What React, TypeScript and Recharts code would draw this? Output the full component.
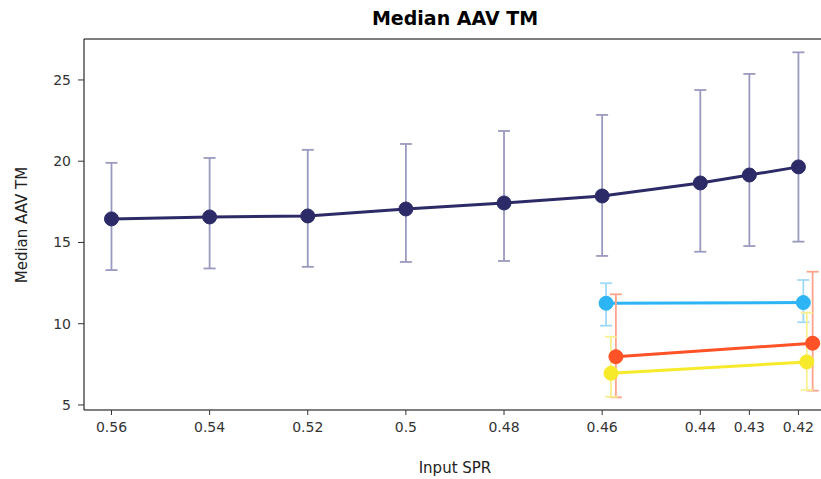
import { LineChart, Line, XAxis, YAxis, ErrorBar, ReferenceLine } from 'recharts';

// Input SPR ticks on the reversed x axis
const X_TICKS = [0.56, 0.54, 0.52, 0.5, 0.48, 0.46, 0.44, 0.43, 0.42];
const Y_TICKS = [5, 10, 15, 20, 25];

// main series (navy)
const MAIN_SPR = [0.56, 0.54, 0.52, 0.5, 0.48, 0.46, 0.44, 0.43, 0.42];
const MAIN_MEDIAN = [16.45, 16.57, 16.63, 17.06, 17.43, 17.86, 18.66, 19.15, 19.65];
const MAIN_LOW = [13.3, 13.4, 13.5, 13.8, 13.86, 14.17, 14.43, 14.78, 15.05];
const MAIN_HIGH = [19.9, 20.2, 20.7, 21.06, 21.86, 22.85, 24.38, 25.37, 26.7];

// light blue series
const BLUE_SPR = [0.4592, 0.419];
const BLUE_MEDIAN = [11.26, 11.3];
const BLUE_LOW = [9.88, 10.09];
const BLUE_HIGH = [12.49, 12.69];

// orange-red series
const RED_SPR = [0.4572, 0.4171];
const RED_MEDIAN = [7.97, 8.8];
const RED_LOW = [5.47, 5.88];
const RED_HIGH = [11.81, 13.2];

// yellow series
const YELLOW_SPR = [0.4582, 0.4183];
const YELLOW_MEDIAN = [6.95, 7.65];
const YELLOW_LOW = [5.51, 5.92];
const YELLOW_HIGH = [9.2, 10.68];

const X_DOMAIN = [0.4154, 0.5656];
const Y_DOMAIN = [4.69, 27.52];

const FONT = "'DejaVu Sans', sans-serif";
const TICK = { fontSize: 14, fill: '#333', fontFamily: FONT };

function toRows(spr: number[], med: number[], low: number[], high: number[]) {
  return spr.map((x, i) => ({
    x,
    y: med[i],
    err: [med[i] - low[i], high[i] - med[i]],
  }));
}

const SERIES = [
  { key: 'main', rows: toRows(MAIN_SPR, MAIN_MEDIAN, MAIN_LOW, MAIN_HIGH), color: '#2c2b68', err: '#9a99c0' },
  { key: 'blue', rows: toRows(BLUE_SPR, BLUE_MEDIAN, BLUE_LOW, BLUE_HIGH), color: '#2db4f5', err: '#9fd9f8' },
  { key: 'red', rows: toRows(RED_SPR, RED_MEDIAN, RED_LOW, RED_HIGH), color: '#ff5226', err: '#ffa48c' },
  { key: 'yellow', rows: toRows(YELLOW_SPR, YELLOW_MEDIAN, YELLOW_LOW, YELLOW_HIGH), color: '#f7ea2a', err: '#f9f08f' },
];

export default function App() {
  return (
    <div style={{ position: 'absolute', left: 0, top: 0, width: 821, height: 479, background: '#fff', fontFamily: FONT }}>
      <div
        style={{
          position: 'absolute', left: 255, width: 400, top: 7, textAlign: 'center',
          fontSize: 19, fontWeight: 700, color: '#000',
        }}
      >
        Median AAV TM
      </div>
      <div
        style={{
          position: 'absolute', left: 255, width: 400, top: 459, textAlign: 'center',
          fontSize: 15, color: '#222',
        }}
      >
        Input SPR
      </div>
      <div
        style={{
          position: 'absolute', left: 22, top: 225, width: 200, textAlign: 'center',
          fontSize: 15, color: '#222', transform: 'translate(-50%, -50%) rotate(-90deg)',
        }}
      >
        Median AAV TM
      </div>
      <LineChart
        width={821}
        height={479}
        margin={{ top: 39, right: 0, bottom: 0, left: 0 }}
        style={{ position: 'absolute', left: 0, top: 0 }}
      >
        <XAxis
          type="number"
          dataKey="x"
          domain={X_DOMAIN}
          reversed
          allowDataOverflow
          ticks={X_TICKS}
          interval={0}
          height={69}
          tick={TICK}
          tickSize={5}
          tickMargin={7}
          stroke="#000"
          tickLine={{ stroke: '#333' }}
        />
        <YAxis
          type="number"
          domain={Y_DOMAIN}
          allowDataOverflow
          ticks={Y_TICKS}
          width={84}
          tick={TICK}
          tickSize={6}
          tickMargin={7}
          stroke="#000"
          tickLine={{ stroke: '#333' }}
        />
        {/* top spine */}
        <ReferenceLine y={Y_DOMAIN[1]} stroke="#000" strokeWidth={1} ifOverflow="visible" />
        {SERIES.map((s) => (
          <Line
            key={s.key}
            data={s.rows}
            dataKey="y"
            type="linear"
            stroke={s.color}
            strokeWidth={3}
            dot={{ r: 7, fill: s.color, stroke: s.color, strokeWidth: 1 }}
            activeDot={false}
            isAnimationActive={false}
          >
            <ErrorBar dataKey="err" direction="y" width={6} stroke={s.err} strokeWidth={1.8} />
          </Line>
        ))}
      </LineChart>
    </div>
  );
}
